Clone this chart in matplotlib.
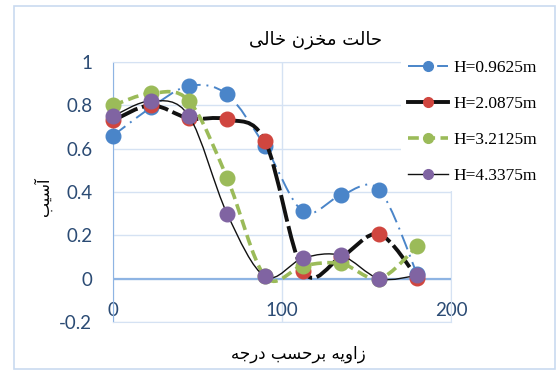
import matplotlib
matplotlib.use("Agg")
import matplotlib.pyplot as plt
from matplotlib.path import Path
from matplotlib.patches import PathPatch, Rectangle
from matplotlib.lines import Line2D
import numpy as np

# angle (deg) and damage for each tank height
angles = [0, 22.5, 45, 67.5, 90, 112.5, 135, 157.5, 180]
h1 = [0.66, 0.79, 0.89, 0.85, 0.61, 0.31, 0.385, 0.41, 0.02]
h2 = [0.73, 0.80, 0.74, 0.735, 0.635, 0.035, 0.10, 0.205, 0.005]
h3 = [0.80, 0.855, 0.82, 0.465, 0.01, 0.06, 0.07, 0.0, 0.15]
h4 = [0.75, 0.82, 0.75, 0.30, 0.01, 0.095, 0.107, 0.0, 0.015]
labels = ["H=0.9625m", "H=2.0875m", "H=3.2125m", "H=4.3375m"]


def farsi(codes):
    # presentation forms in logical order -> visual (left to right) string
    return "".join(chr(c) for c in codes)[::-1]


title_txt = farsi([0xFEA3, 0xFE8E, 0xFEDF, 0xFE96, 0x20,
                   0xFEE3, 0xFEA8, 0xFEB0, 0xFEE5, 0x20,
                   0xFEA7, 0xFE8E, 0xFEDF, 0xFEF0])
ylabel_txt = farsi([0xFE81, 0xFEB3, 0xFEF4, 0xFE90])
xlabel_txt = farsi([0xFEAF, 0xFE8D, 0xFEED, 0xFEF3, 0xFEEA, 0x20,
                    0xFE91, 0xFEAE, 0xFEA3, 0xFEB4, 0xFE90, 0x20,
                    0xFEA9, 0xFEAD, 0xFE9F, 0xFEEA])


def smooth_path(x, y):
    # Catmull-Rom style bezier through the points
    p = np.column_stack([x, y]).astype(float)
    n = len(p)
    verts = [p[0]]
    codes = [Path.MOVETO]
    for i in range(n - 1):
        p0 = p[i - 1] if i > 0 else p[i]
        p1, p2 = p[i], p[i + 1]
        p3 = p[i + 2] if i + 2 < n else p[i + 1]
        verts += [p1 + (p2 - p0) / 6, p2 - (p3 - p1) / 6, p2]
        codes += [Path.CURVE4] * 3
    return Path(verts, codes)


fig = plt.figure(figsize=(5.58, 3.74), dpi=100)
ax = fig.add_axes([113 / 558, 52 / 374, 338 / 558, 260 / 374])

grid_c = "#d5e2f3"
axis_c = "#8eb4e3"
tick_c = "#2b4b74"

series = [
    (h1, "#4a85c9", dict(color="#4a85c9", lw=1.4, linestyle=(0, (8, 3, 1, 3)))),
    (h2, "#d0463f", dict(color="#111111", lw=2.8, linestyle=(0, (7, 1.2)))),
    (h3, "#9bbb59", dict(color="#9bbb59", lw=2.6, linestyle=(0, (3, 1.5)))),
    (h4, "#8064a2", dict(color="#111111", lw=1.0, linestyle="-")),
]

handles = []
for i, (vals, mc, ls) in enumerate(series):
    z = 3 + i
    patch = PathPatch(smooth_path(angles, vals), fill=False, zorder=z,
                      edgecolor=ls["color"], lw=ls["lw"], linestyle=ls["linestyle"],
                      capstyle="butt")
    ax.add_patch(patch)
    ax.plot(angles, vals, "o", color=mc, ms=10.5, mec=mc, zorder=z, clip_on=False)
    lstyle = "-" if i == 1 else ls["linestyle"]
    handles.append(Line2D([], [], color=ls["color"], lw=ls["lw"], linestyle=lstyle,
                          marker="o", ms=7, mfc=mc, mec=mc))

ax.set_xlim(0, 200)
ax.set_ylim(-0.2, 1.0)
ax.set_xticks([0, 100, 200])
ax.set_yticks([-0.2, 0, 0.2, 0.4, 0.6, 0.8, 1.0])
ax.set_yticklabels(["-0.2", "0", "0.2", "0.4", "0.6", "0.8", "1"])
ax.grid(True, color=grid_c, lw=1.0, zorder=0)
ax.set_axisbelow(True)
for s in ax.spines.values():
    s.set_color(grid_c)
ax.spines["left"].set_color(axis_c)
ax.axhline(0, color=axis_c, lw=1.6, zorder=1)
ax.tick_params(length=0, labelsize=13.5, labelcolor=tick_c)
ax.tick_params(axis="y", pad=15)
ax.tick_params(axis="x", pad=-14.5)
for t in ax.get_xticklabels() + ax.get_yticklabels():
    t.set_fontfamily("Lato")

leg = ax.legend(handles, labels, loc="upper left",
                bbox_to_anchor=(401 / 558, 1 - 53 / 374),
                bbox_transform=fig.transFigure, frameon=True, fancybox=False,
                facecolor="white", edgecolor="none", framealpha=1,
                prop={"family": "Liberation Serif", "size": 12.5},
                handlelength=2.3, handletextpad=0.3, labelspacing=1.15,
                borderpad=0.4, borderaxespad=0)
leg.set_zorder(10)

fig.text(316 / 558, 1 - 40 / 374, title_txt, ha="center", va="center",
         fontsize=13, family="DejaVu Sans")
fig.text(43 / 558, 1 - 197 / 374, ylabel_txt, ha="center", va="center",
         rotation=90, fontsize=11.5, family="DejaVu Sans")
fig.text(298 / 558, 1 - 354 / 374, xlabel_txt, ha="center", va="center",
         fontsize=12, family="DejaVu Sans")

# outer chart border
fig.patches.append(Rectangle((14 / 558, 5 / 374), 541 / 558, 363 / 374,
                             transform=fig.transFigure, fill=False,
                             edgecolor="#c9daf0", lw=1.2))

fig.savefig("out.png", dpi=100)
